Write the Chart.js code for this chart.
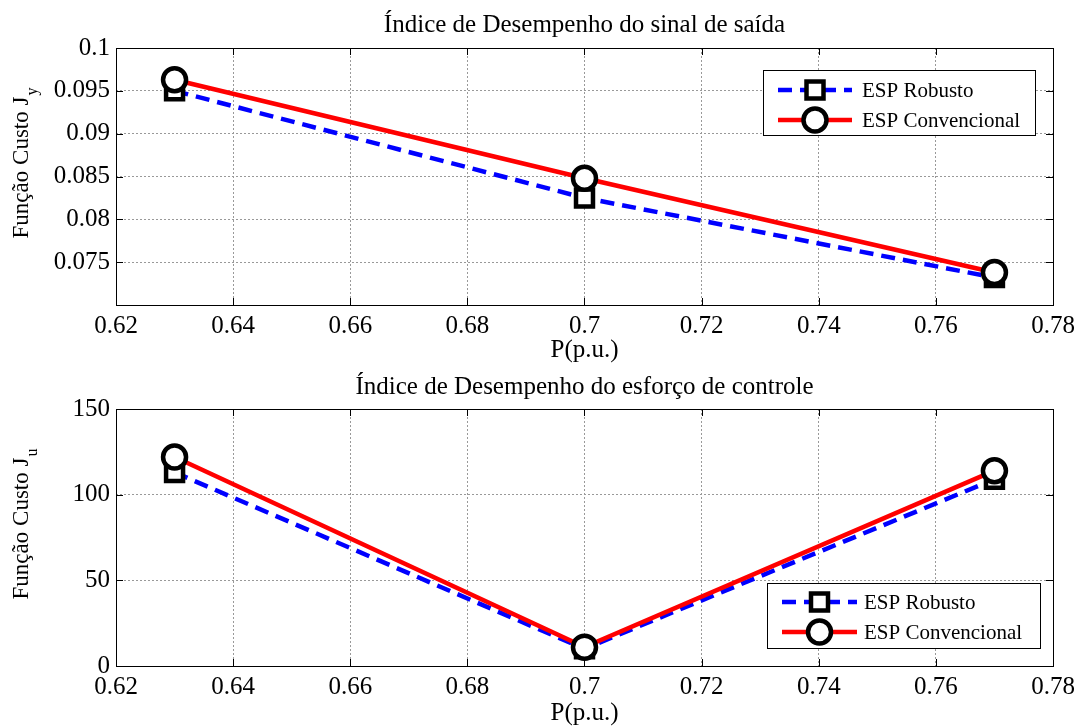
<!DOCTYPE html>
<html>
<head>
<meta charset="utf-8">
<script src="https://cdn.jsdelivr.net/npm/chart.js@4.4.1/dist/chart.umd.min.js"></script>
<style>
  html, body { margin: 0; padding: 0; background: #fff; }
  .plot { position: absolute; left: 0; width: 1083px; height: 363px; }
  #top { top: 0; }
  #bottom { top: 363px; }
</style>
</head>
<body>
<div class="plot" id="top"><canvas id="jyChart" width="1083" height="363"></canvas></div>
<div class="plot" id="bottom"><canvas id="juChart" width="1083" height="363"></canvas></div>
<script>
const pValues = [0.63, 0.70, 0.77];
const jyRobusto = [0.0950, 0.0825, 0.0732];
const jyConvencional = [0.0963, 0.0848, 0.0738];
const juRobusto = [113, 10, 109];
const juConvencional = [122, 11, 114];

const xTickValues = [0.62, 0.64, 0.66, 0.68, 0.70, 0.72, 0.74, 0.76, 0.78];
const jyTickValues = [0.07, 0.075, 0.08, 0.085, 0.09, 0.095, 0.1];
const juTickValues = [0, 50, 100, 150];
const seriesNames = ['ESP Robusto', 'ESP Convencional'];

const SERIF = "'Liberation Serif', 'Times New Roman', serif";
Chart.defaults.font.family = SERIF;
Chart.defaults.color = '#000';

const toPoints = (ys) => pValues.map((x, i) => ({ x: x, y: ys[i] }));

// box with inward ticks on all four sides (matlab look)
const boxPlugin = {
    id: 'matlabBox',
    afterDraw(chart) {
        const { ctx, chartArea: a } = chart;
        const sx = chart.scales.x, sy = chart.scales.y;
        const len = 7;
        ctx.save();
        ctx.strokeStyle = '#000';
        ctx.lineWidth = 1;
        ctx.setLineDash([]);
        ctx.strokeRect(a.left + 0.5, a.top + 0.5, a.right - a.left, a.bottom - a.top);
        ctx.beginPath();
        sx.ticks.forEach(t => {
            const px = Math.round(sx.getPixelForValue(t.value)) + 0.5;
            ctx.moveTo(px, a.bottom); ctx.lineTo(px, a.bottom - len);
            ctx.moveTo(px, a.top); ctx.lineTo(px, a.top + len);
        });
        sy.ticks.forEach(t => {
            const py = Math.round(sy.getPixelForValue(t.value)) + 0.5;
            ctx.moveTo(a.left, py); ctx.lineTo(a.left + len, py);
            ctx.moveTo(a.right, py); ctx.lineTo(a.right - len, py);
        });
        ctx.stroke();
        ctx.restore();
    }
};

// y label with a subscript
const yLabelPlugin = {
    id: 'yLabel',
    afterDraw(chart, args, opts) {
        const { ctx, chartArea: a } = chart;
        const cy = (a.top + a.bottom) / 2 - 13;
        ctx.save();
        ctx.fillStyle = '#000';
        ctx.font = '23px ' + SERIF;
        const w1 = ctx.measureText(opts.text).width;
        ctx.font = '16px ' + SERIF;
        const w2 = ctx.measureText(opts.sub).width;
        ctx.translate(22, cy);
        ctx.rotate(-Math.PI / 2);
        ctx.textBaseline = 'middle';
        ctx.textAlign = 'left';
        const start = -(w1 + w2) / 2;
        ctx.font = '23px ' + SERIF;
        ctx.fillText(opts.text, start, 0);
        ctx.font = '16px ' + SERIF;
        ctx.fillText(opts.sub, start + w1 + 1, 11);
        ctx.restore();
    }
};

function drawMarker(ctx, style, x, y) {
    ctx.beginPath();
    if (style === 'rect') {
        const h = 8.5;
        ctx.rect(x - h, y - h, 2 * h, 2 * h);
    } else {
        ctx.arc(x, y, 11.5, 0, Math.PI * 2);
    }
    ctx.fillStyle = '#fff';
    ctx.fill();
    ctx.lineWidth = 4.5;
    ctx.strokeStyle = '#000';
    ctx.stroke();
}

const legendPlugin = {
    id: 'matlabLegend',
    afterDraw(chart, args, o) {
        const ctx = chart.ctx;
        ctx.save();
        ctx.fillStyle = '#fff';
        ctx.fillRect(o.x, o.y, o.w, o.h);
        ctx.strokeStyle = '#000';
        ctx.lineWidth = 1;
        ctx.strokeRect(o.x + 0.5, o.y + 0.5, o.w, o.h);
        chart.data.datasets.slice().sort((a, b) => b.order - a.order).forEach((ds, i) => {
            const ry = o.rows[i];
            ctx.beginPath();
            ctx.setLineDash(ds.borderDash || []);
            ctx.strokeStyle = ds.borderColor;
            ctx.lineWidth = ds.borderWidth;
            ctx.moveTo(o.lineX0, ry);
            ctx.lineTo(o.lineX1, ry);
            ctx.stroke();
            ctx.setLineDash([]);
            drawMarker(ctx, ds.pointStyle, (o.lineX0 + o.lineX1) / 2, ry);
            ctx.fillStyle = '#000';
            ctx.font = '21px ' + SERIF;
            ctx.textBaseline = 'middle';
            ctx.fillText(ds.label, o.textX, ry + 1);
        });
        ctx.restore();
    }
};

function makeDatasets(robusto, convencional) {
    return [
        {
            label: seriesNames[1],
            data: toPoints(convencional),
            order: 0,
            borderColor: '#ff0000',
            borderWidth: 4.5,
            pointStyle: 'circle',
            pointRadius: 11.5,
            pointBorderWidth: 4.5,
            pointBorderColor: '#000',
            pointBackgroundColor: '#fff',
            tension: 0
        },
        {
            label: seriesNames[0],
            data: toPoints(robusto),
            order: 1,
            borderColor: '#0000ff',
            borderWidth: 4.5,
            borderDash: [14, 8],
            pointStyle: 'rect',
            pointRadius: 12,
            pointBorderWidth: 4.5,
            pointBorderColor: '#000',
            pointBackgroundColor: '#fff',
            tension: 0
        }
    ];
}

function makeChart(id, cfg) {
    return new Chart(document.getElementById(id), {
        type: 'line',
        data: { datasets: makeDatasets(cfg.robusto, cfg.convencional) },
        plugins: [boxPlugin, yLabelPlugin, legendPlugin],
        options: {
            responsive: false,
            animation: false,
            devicePixelRatio: 1,
            layout: { padding: { left: 0, right: 30, top: 0, bottom: 0 } },
            plugins: {
                legend: { display: false },
                tooltip: { enabled: false },
                title: {
                    display: true,
                    text: cfg.title,
                    fullSize: false,
                    font: { size: 25, weight: 'normal' },
                    padding: cfg.titlePad
                },
                yLabel: { text: 'Função Custo J', sub: cfg.sub },
                matlabLegend: cfg.legend
            },
            scales: {
                x: {
                    type: 'linear',
                    min: 0.62,
                    max: 0.78,
                    afterBuildTicks: s => { s.ticks = xTickValues.map(v => ({ value: v })); },
                    afterFit: s => { s.height = cfg.xAxisHeight; },
                    ticks: {
                        autoSkip: false, maxRotation: 0, padding: 6,
                        font: { size: 25 },
                        callback: v => String(parseFloat(v.toFixed(3)))
                    },
                    grid: { color: '#999999', lineWidth: 1, drawTicks: false },
                    border: { display: false, dash: [2, 2] },
                    title: {
                        display: true, text: 'P(p.u.)',
                        font: { size: 25, lineHeight: 1 },
                        padding: { top: 0, bottom: 0 }
                    }
                },
                y: {
                    min: cfg.yMin,
                    max: cfg.yMax,
                    afterBuildTicks: s => { s.ticks = cfg.yTicks.map(v => ({ value: v })); },
                    afterFit: s => { s.width = 116; },
                    ticks: {
                        padding: 6,
                        font: { size: 25 },
                        callback: cfg.yLabel
                    },
                    grid: { color: '#999999', lineWidth: 1, drawTicks: false },
                    border: { display: false, dash: [2, 2] }
                }
            }
        }
    });
}

makeChart('jyChart', {
    robusto: jyRobusto,
    convencional: jyConvencional,
    title: 'Índice de Desempenho do sinal de saída',
    titlePad: { top: 10, bottom: 8 },
    sub: 'y',
    xAxisHeight: 58,
    yMin: 0.07,
    yMax: 0.1,
    yTicks: jyTickValues,
    yLabel: v => (Math.abs(v - 0.07) < 1e-9 ? '' : String(parseFloat(v.toFixed(4)))),
    legend: { x: 763, y: 70, w: 272, h: 65, rows: [90, 120], lineX0: 778, lineX1: 852, textX: 862 }
});

makeChart('juChart', {
    robusto: juRobusto,
    convencional: juConvencional,
    title: 'Índice de Desempenho do esforço de controle',
    titlePad: { top: 9.5, bottom: 6.5 },
    sub: 'u',
    xAxisHeight: 60,
    yMin: 0,
    yMax: 150,
    yTicks: juTickValues,
    yLabel: v => String(v),
    legend: { x: 767, y: 220, w: 273, h: 65, rows: [239, 269], lineX0: 782, lineX1: 857, textX: 864 }
});
</script>
</body>
</html>
